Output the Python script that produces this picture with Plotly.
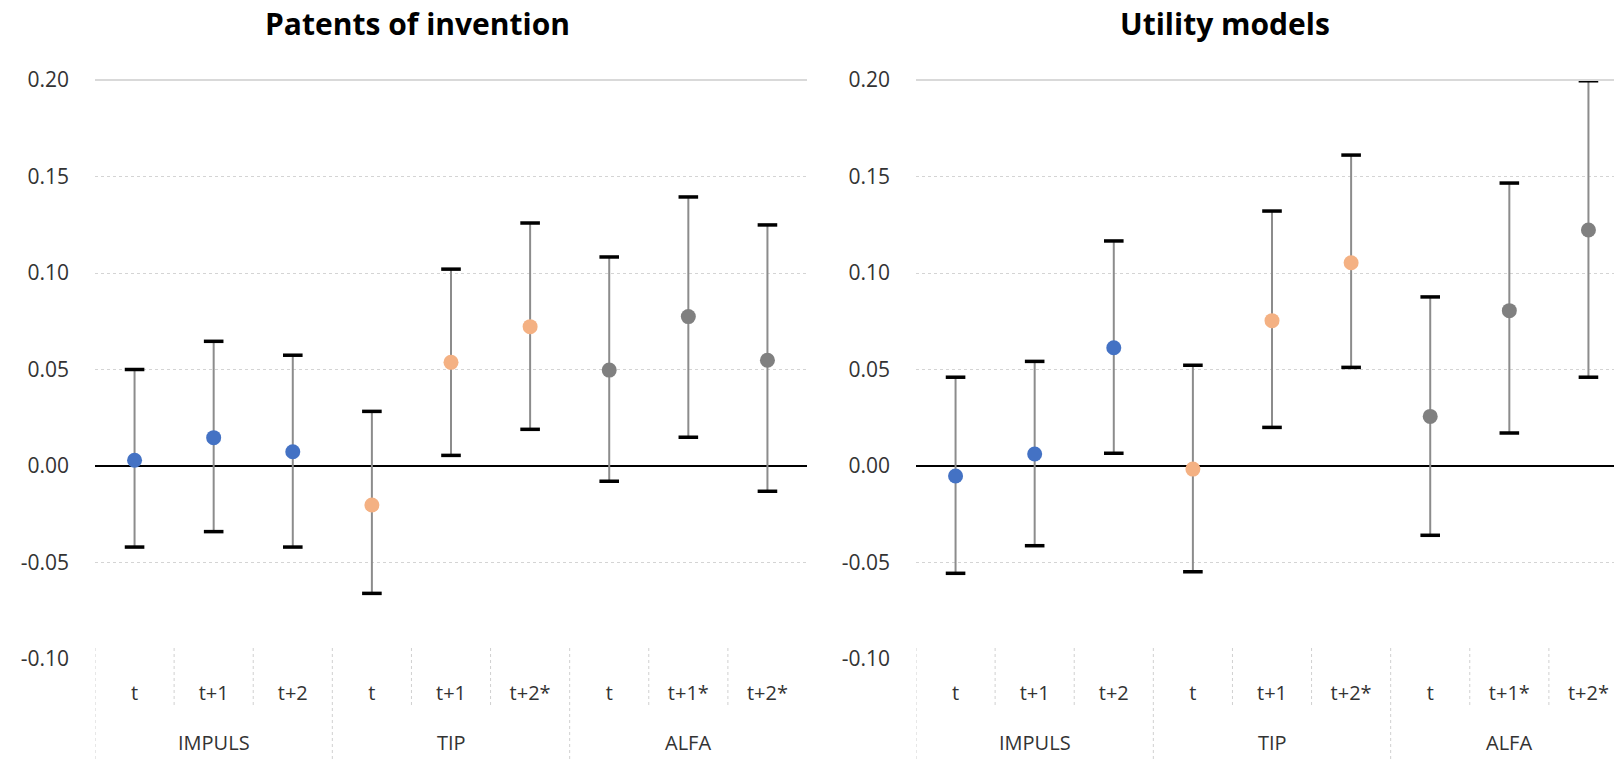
import plotly.graph_objects as go

# ---------------- data ----------------
programs = ["IMPULS", "IMPULS", "IMPULS", "TIP", "TIP", "TIP", "ALFA", "ALFA", "ALFA"]
periods = ["t", "t+1", "t+2", "t", "t+1", "t+2*", "t", "t+1*", "t+2*"]
group_names = ["IMPULS", "TIP", "ALFA"]

patents_est = [0.003, 0.0147, 0.0074, -0.0202, 0.0537, 0.0722, 0.0497, 0.0774, 0.0548]
patents_low = [-0.042, -0.034, -0.042, -0.066, 0.0055, 0.019, -0.0079, 0.0149, -0.0131]
patents_up = [0.050, 0.0646, 0.0574, 0.0283, 0.102, 0.1259, 0.1083, 0.1394, 0.1249]

utility_est = [-0.0052, 0.0062, 0.0613, -0.0016, 0.0753, 0.1053, 0.0257, 0.0805, 0.1223]
utility_low = [-0.0556, -0.0413, 0.0066, -0.0548, 0.020, 0.0511, -0.0359, 0.0171, 0.046]
utility_up = [0.046, 0.0542, 0.1166, 0.0522, 0.1321, 0.1611, 0.0876, 0.1466, 0.1996]

y_ticks = [-0.10, -0.05, 0.00, 0.05, 0.10, 0.15, 0.20]
titles = ["Patents of invention", "Utility models"]

# ---------------- styles ----------------
W, H = 1614, 759
FONT = "Open Sans"
TXT = "#333333"
colors = {"IMPULS": "#4472C4", "TIP": "#F4B183", "ALFA": "#808080"}
GRID = "#D4D4D4"

pos = list(range(len(periods)))
point_colors = [colors[p] for p in programs]

fig = go.Figure()

panels = [
    (patents_est, patents_low, patents_up, "x", "y"),
    (utility_est, utility_low, utility_up, "x2", "y2"),
]

for est, low, up, xa, ya in panels:
    fig.add_trace(go.Scatter(
        x=pos, y=est, mode="markers", xaxis=xa, yaxis=ya,
        marker=dict(size=15, color=point_colors, line=dict(width=0)),
        error_y=dict(type="data", symmetric=False,
                     array=[u - e for u, e in zip(up, est)],
                     arrayminus=[e - l for e, l in zip(est, low)],
                     width=0, thickness=2, color="#8C8C8C"),
        cliponaxis=False, showlegend=False, hoverinfo="skip",
    ))
    fig.add_trace(go.Scatter(
        x=pos + pos, y=up + low, mode="markers", xaxis=xa, yaxis=ya,
        marker=dict(symbol="line-ew", size=14, color="black",
                    line=dict(width=3.5, color="black")),
        cliponaxis=False, showlegend=False, hoverinfo="skip",
    ))

# plot-area geometry (pixels)
top_px, bottom_px = 80, 659
left_dom = [95 / W, 807 / W]
right_dom = [916 / W, 1.0]
spacing = (807 - 95) / len(periods)
right_max = -0.5 + (W - 916) / spacing

ytick_text = [f"{v:.2f}" for v in y_ticks]
yax = dict(range=[-0.10, 0.20], tickvals=y_ticks, ticktext=ytick_text,
           showgrid=True, gridcolor=GRID, griddash="dot", gridwidth=1,
           zeroline=True, zerolinecolor="black", zerolinewidth=2,
           showline=False, ticks="", ticklabelstandoff=25, automargin=False,
           tickfont=dict(family=FONT, size=21, color=TXT), domain=[0, 1])
xax = dict(tickvals=pos, ticktext=periods, showgrid=False, zeroline=False,
           showline=False, ticks="", ticklabelstandoff=20, automargin=False,
           tickfont=dict(family=FONT, size=20, color=TXT))

fig.update_layout(
    width=W, height=H,
    margin=dict(l=0, r=0, t=top_px, b=H - bottom_px, pad=0, autoexpand=False),
    paper_bgcolor="white", plot_bgcolor="white",
    xaxis=dict(xax, domain=left_dom, range=[-0.5, len(periods) - 0.5]),
    xaxis2=dict(xax, domain=right_dom, range=[-0.5, right_max]),
    yaxis=dict(yax, anchor="x"),
    yaxis2=dict(yax, anchor="x2"),
)

plot_h = bottom_px - top_px
y_div_top = (bottom_px - 648) / plot_h
y_div_short = -(708 - bottom_px) / plot_h
y_div_long = -(H - bottom_px) / plot_h
y_group = -(742 - bottom_px) / plot_h

shapes = []
annotations = []
for xa, ya in [("x", "y"), ("x2", "y2")]:
    # top solid border at the maximum of the value axis
    shapes.append(dict(type="line", xref=f"{xa} domain", yref=f"{ya} domain",
                       x0=0, x1=1, y0=1, y1=1, line=dict(color="#D9D9D9", width=2)))
    for i in range(len(periods)):
        boundary = i - 0.5
        is_group = i == 0 or programs[i] != programs[i - 1]
        shapes.append(dict(type="line", xref=xa, yref=f"{ya} domain",
                           x0=boundary, x1=boundary, y0=y_div_top,
                           y1=y_div_long if is_group else y_div_short,
                           line=dict(color="#D0D0D0", width=1, dash="dot")))
    for g in group_names:
        idx = [p for p, prog in zip(pos, programs) if prog == g]
        annotations.append(dict(x=sum(idx) / len(idx), xref=xa, y=y_group,
                                yref=f"{ya} domain", text=g, showarrow=False,
                                yanchor="middle",
                                font=dict(family=FONT, size=20, color=TXT)))

title_x = [417 / W, 1225 / W]
for t, tx in zip(titles, title_x):
    annotations.append(dict(x=tx, xref="paper", y=1 + (top_px - 23) / plot_h,
                            yref="paper", text=f"<b>{t}</b>", showarrow=False,
                            xanchor="center", yanchor="middle",
                            font=dict(family=FONT, size=30, color="black")))

fig.update_layout(shapes=shapes, annotations=annotations)
fig.write_html(
    "out.html",
    config={"displayModeBar": False},
    post_script="document.body.style.margin='0';document.body.style.overflow='hidden';",
)
